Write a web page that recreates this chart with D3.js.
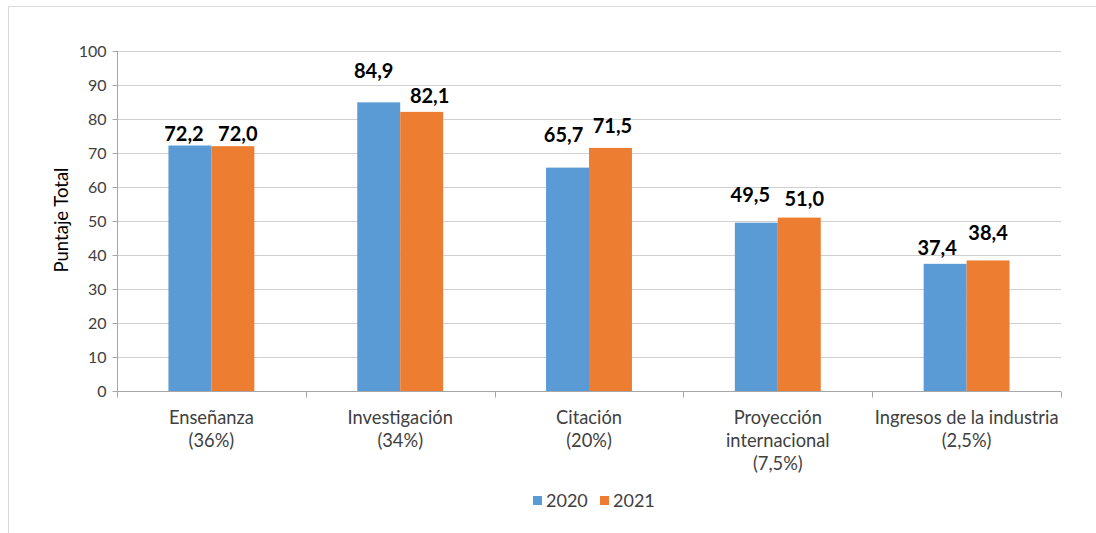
<!DOCTYPE html>
<html lang="es">
<head>
  <meta charset="UTF-8">
  <title>Puntaje Total 2020 - 2021</title>
  <script src="https://cdn.jsdelivr.net/npm/d3@7"></script>
  <style>
    body { margin: 0; background: #fff; }
    text { font-family: Lato, "Open Sans", sans-serif; fill: #404040; }
  </style>
</head>
<body>
  <svg width="1096" height="533"></svg>
<script>
  // datos
  const categories = [
    ['Enseñanza', '(36%)'],
    ['Investigación', '(34%)'],
    ['Citación', '(20%)'],
    ['Proyección', 'internacional', '(7,5%)'],
    ['Ingresos de la industria', '(2,5%)']
  ];
  const seriesNames = ['2020', '2021'];
  const values2020 = [72.2, 84.9, 65.7, 49.5, 37.4];
  const values2021 = [72.0, 82.1, 71.5, 51.0, 38.4];
  const yTicks = [0, 10, 20, 30, 40, 50, 60, 70, 80, 90, 100];

  const colors = ['#5b9bd5', '#ed7d31'];

  // desplazamiento de las etiquetas (como quedaron movidas en el original): [dx, px sobre la barra]
  const labelNudge = [
    [[-6, 5], [5, 5]],
    [[-5, 24], [8, 9]],
    [[-4, 26], [2, 15]],
    [[-6, 21], [5, 12]],
    [[-8, 9], [0, 20]]
  ];

  const svg = d3.select('svg');

  // marco exterior (solo se ven los bordes superior e izquierdo)
  svg.append('path')
    .attr('d', 'M8.5,533V6.5H1096')
    .attr('fill', 'none')
    .attr('stroke', '#d9d9d9');

  const margin = { top: 51, left: 117 };
  const innerWidth = 944;
  const innerHeight = 340;

  const g = svg.append('g')
    .attr('transform', `translate(${margin.left},${margin.top})`);

  const keys = categories.map((c, i) => i);
  const rows = keys.map(i => ({ idx: i, values: [values2020[i], values2021[i]] }));

  const x0 = d3.scaleBand()
    .domain(keys)
    .range([0, innerWidth])
    .paddingInner(0.545)
    .paddingOuter(0.2725);

  const x1 = d3.scaleBand()
    .domain([0, 1])
    .range([0, x0.bandwidth()]);

  const y = d3.scaleLinear().domain([0, 100]).range([innerHeight, 0]);

  // rejilla
  g.append('g')
    .selectAll('line')
    .data(yTicks.filter(t => t > 0))
    .join('line')
    .attr('x1', 0).attr('x2', innerWidth)
    .attr('y1', d => Math.round(y(d)) + 0.5)
    .attr('y2', d => Math.round(y(d)) + 0.5)
    .attr('stroke', '#d0d0d0');

  // eje y
  const yAxis = g.append('g')
    .attr('transform', 'translate(0.5,0)')
    .call(d3.axisLeft(y).tickValues(yTicks).tickSize(5).tickPadding(6).tickFormat(d3.format('d')));
  yAxis.select('.domain').attr('stroke', '#a6a6a6').attr('d', `M0,0V${innerHeight}`);
  yAxis.selectAll('.tick line').attr('stroke', '#a6a6a6');
  yAxis.selectAll('.tick text')
    .attr('font-size', '16px')
    .attr('font-family', 'Lato, sans-serif')
    .attr('fill', '#404040');

  // barras
  const groups = g.append('g')
    .selectAll('g')
    .data(rows)
    .join('g')
    .attr('transform', d => `translate(${x0(d.idx)},0)`);

  groups.selectAll('rect')
    .data(d => d.values.map((v, s) => ({ s, v })))
    .join('rect')
    .attr('x', d => x1(d.s))
    .attr('y', d => y(d.v))
    .attr('width', x1.bandwidth())
    .attr('height', d => innerHeight - y(d.v))
    .attr('fill', d => colors[d.s]);

  groups.selectAll('text')
    .data(d => d.values.map((v, s) => ({ s, v, n: labelNudge[d.idx][s] })))
    .join('text')
    .attr('x', d => x1(d.s) + x1.bandwidth() / 2 + d.n[0])
    .attr('y', d => y(d.v) - d.n[1])
    .attr('text-anchor', 'middle')
    .attr('font-size', '20px')
    .attr('font-weight', 700)
    .style('fill', '#000')
    .text(d => d3.format('.1f')(d.v).replace('.', ','));

  // eje x
  const xAxisG = g.append('g').attr('transform', `translate(0,${innerHeight + 0.5})`);
  xAxisG.append('line')
    .attr('x1', 0).attr('x2', innerWidth)
    .attr('stroke', '#a6a6a6');
  const step = x0.step();
  xAxisG.selectAll('.tk')
    .data(d3.range(keys.length + 1))
    .join('line')
    .attr('class', 'tk')
    .attr('x1', d => Math.round(d * step) + 0.5)
    .attr('x2', d => Math.round(d * step) + 0.5)
    .attr('y1', 0).attr('y2', 6)
    .attr('stroke', '#a6a6a6');

  xAxisG.selectAll('.cat')
    .data(rows)
    .join('text')
    .attr('class', 'cat')
    .attr('text-anchor', 'middle')
    .attr('font-size', '18.3px')
    .attr('transform', d => `translate(${x0(d.idx) + x0.bandwidth() / 2},0)`)
    .selectAll('tspan')
    .data(d => categories[d.idx])
    .join('tspan')
    .attr('x', 0)
    .attr('y', (d, i) => 32 + i * 23)
    .text(d => d);

  // título eje y
  svg.append('text')
    .attr('transform', 'translate(68,220) rotate(-90)')
    .attr('text-anchor', 'middle')
    .attr('font-size', '18.5px')
    .style('fill', '#000')
    .text('Puntaje Total');

  // leyenda
  const legend = svg.append('g').attr('transform', 'translate(533,496)');
  const item = legend.selectAll('g')
    .data(seriesNames)
    .join('g')
    .attr('transform', (d, i) => `translate(${i * 67},0)`);
  item.append('rect')
    .attr('width', 9).attr('height', 9)
    .attr('fill', (d, i) => colors[i]);
  item.append('text')
    .attr('x', 13).attr('y', 11)
    .attr('font-size', '18px')
    .text(d => d);
</script>
</body>
</html>
